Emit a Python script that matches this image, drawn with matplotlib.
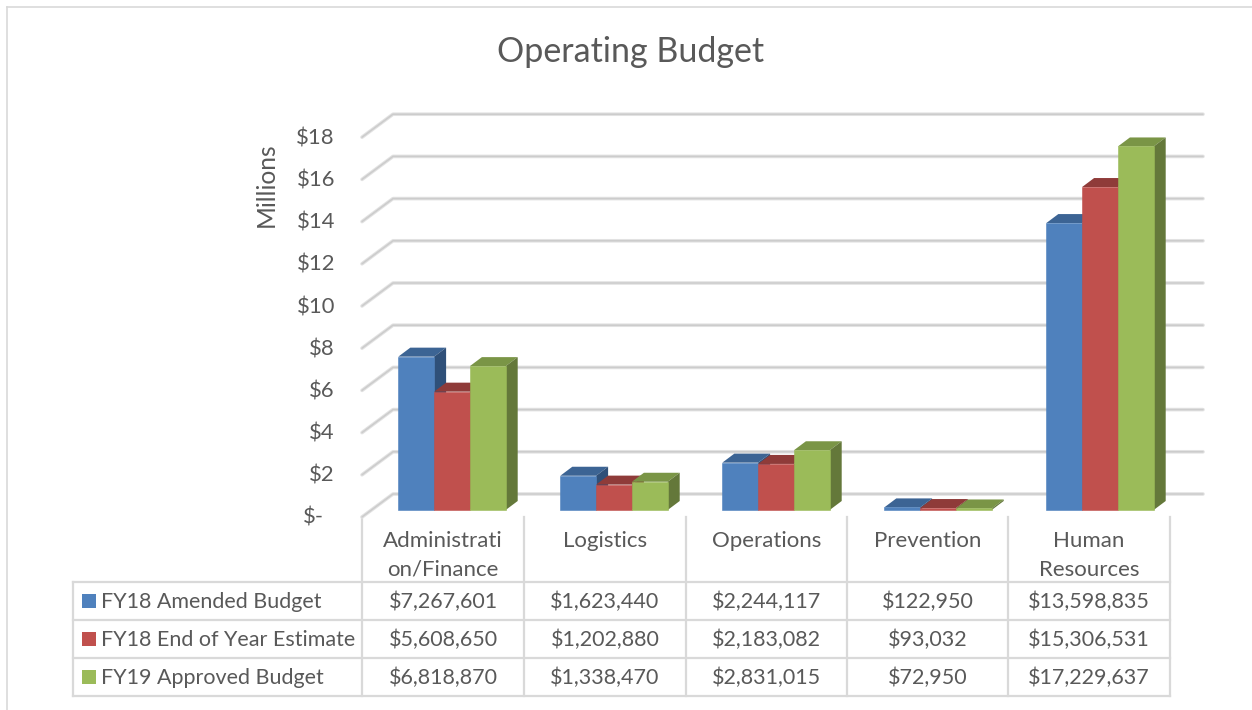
import matplotlib
matplotlib.use("Agg")
import matplotlib.pyplot as plt
from matplotlib.patches import Polygon, Rectangle

categories = ["Administrati\non/Finance", "Logistics", "Operations", "Prevention", "Human\nResources"]
series_names = ["FY18 Amended Budget", "FY18 End of Year Estimate", "FY19 Approved Budget"]
fy18_amended = [7267601, 1623440, 2244117, 122950, 13598835]
fy18_estimate = [5608650, 1202880, 2183082, 93032, 15306531]
fy19_approved = [6818870, 1338470, 2831015, 72950, 17229637]
y_ticks = [0, 2, 4, 6, 8, 10, 12, 14, 16, 18]

front_colors = ["#4F81BD", "#C0504D", "#9BBB59"]
top_colors = ["#3C6494", "#8F3B39", "#7A9546"]
side_colors = ["#2F5079", "#7A2F2D", "#64783A"]
text_color = "#595959"
font = "Lato"

W, H = 1252, 710
CELL_PX = 162     # one category column
MILLION_PX = 21.1
BASE_Y = 510      # bar base in pixels
LEFT_X = 362


def main():
    plt.rcParams["font.family"] = font
    fig = plt.figure(figsize=(W / 100, H / 100), dpi=100, facecolor="white")

    # full figure axes in pixels for the frame and data table
    bg = fig.add_axes([0, 0, 1, 1])
    bg.set_xlim(0, W)
    bg.set_ylim(H, 0)
    bg.axis("off")

    # chart axes: x in categories, y in millions
    ax = fig.add_axes([LEFT_X / W, (H - BASE_Y) / H, 5 * CELL_PX / W, 18 * MILLION_PX / H])
    ax.set_xlim(0, 5)
    ax.set_ylim(0, 18)
    ax.axis("off")

    dx_px = lambda px: px / CELL_PX
    dy_px = lambda px: px / MILLION_PX

    # walls and floor gridlines
    for v in y_ticks:
        xs = [0, dx_px(31), 5 + dx_px(31)]
        ys = [v - dy_px(7), v + dy_px(16), v + dy_px(16)]
        ax.plot(xs, ys, color="#E2E2E2", lw=2.6, clip_on=False, zorder=1, solid_capstyle="round")
        ax.plot(xs, ys, color="#CCCCCC", lw=1.1, clip_on=False, zorder=1.1, solid_capstyle="round")
        label = "$-" if v == 0 else f"${v}"
        x_label = dx_px(-38) if v == 0 else dx_px(-27)
        ax.text(x_label, v - dy_px(8), label, ha="right", va="center", fontsize=15.8,
                color=text_color, clip_on=False)

    # bars, drawn left to right so later fronts cover earlier sides
    bar_w = 35.8 / CELL_PX
    depth_x = dx_px(12)
    depth_y = dy_px(9)
    offset = 36.3 / CELL_PX
    all_series = [fy18_amended, fy18_estimate, fy19_approved]
    z = 3
    for c in range(len(categories)):
        for s, values in enumerate(all_series):
            v = values[c] / 1e6
            x0 = c + offset + s * bar_w
            x1 = x0 + bar_w
            ax.bar(x0, v, width=bar_w, align="edge", color=front_colors[s], zorder=z + 0.2,
                   edgecolor=front_colors[s], linewidth=0.4, clip_on=False)
            ax.add_patch(Polygon([(x0, v), (x1, v), (x1 + depth_x, v + depth_y), (x0 + depth_x, v + depth_y)],
                                 closed=True, fc=top_colors[s], ec="none", zorder=z, clip_on=False))
            ax.add_patch(Polygon([(x1, 0), (x1 + depth_x, depth_y), (x1 + depth_x, v + depth_y), (x1, v)],
                                 closed=True, fc=side_colors[s], ec="none", zorder=z + 0.1, clip_on=False))
            z += 1

    # chart frame, only top and left are inside the crop
    bg.plot([7, 7], [710, 7], color="#D9D9D9", lw=1.2)
    bg.plot([7, 1252], [7, 7], color="#D9D9D9", lw=1.2)

    bg.text(631, 52, "Operating Budget", ha="center", va="center", fontsize=24.5, color=text_color)
    bg.text(266, 185, "Millions", ha="center", va="center", rotation=90, fontsize=17.7, color=text_color)

    # data table
    grid = "#D9D9D9"
    col_x = [362, 524, 686, 847, 1008, 1170]
    row_y = [582, 620, 658, 696]
    for x in col_x:
        bg.plot([x, x], [517, 696], color=grid, lw=1.6)
    bg.plot([73, 73], [582, 696], color=grid, lw=1.6)
    for y in row_y:
        bg.plot([73, 1170], [y, y], color=grid, lw=1.6)

    for i, name in enumerate(categories):
        xc = (col_x[i] + col_x[i + 1]) / 2
        lines = name.split("\n")
        for j, line in enumerate(lines):
            bg.text(xc, 541 + 28.5 * j, line, ha="center", va="center", fontsize=16, color=text_color)

    for r, values in enumerate(all_series):
        yc = (row_y[r] + row_y[r + 1]) / 2
        bg.add_patch(Rectangle((82, yc - 7), 14, 14, fc=front_colors[r], ec="none"))
        bg.text(101, yc + 1, series_names[r], ha="left", va="center", fontsize=15.5, color=text_color)
        for i, v in enumerate(values):
            xc = (col_x[i] + col_x[i + 1]) / 2
            bg.text(xc, yc + 1, f"${v:,}", ha="center", va="center", fontsize=15.5, color=text_color)

    fig.savefig("out.png", dpi=100, facecolor="white")


if __name__ == "__main__":
    main()
